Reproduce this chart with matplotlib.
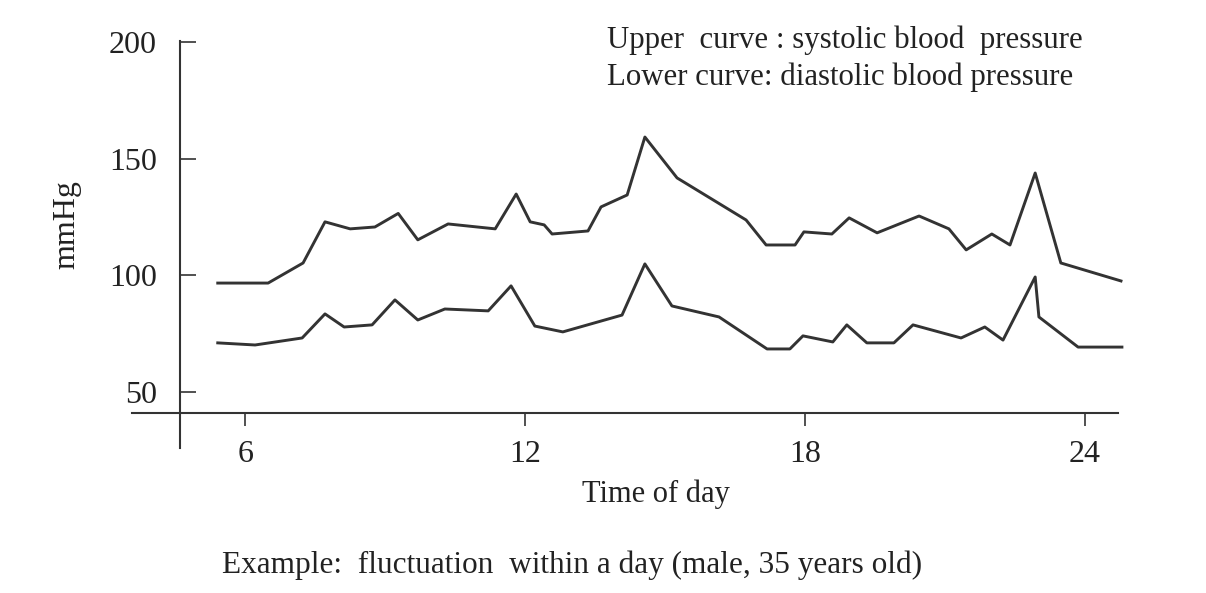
import matplotlib
matplotlib.use("Agg")
import matplotlib.pyplot as plt

plt.rcParams['font.family'] = ['Liberation Serif', 'DejaVu Serif']

# time of day (hours) and blood pressure (mmHg)
hours_sys = [5.41, 6.49, 7.24, 7.71, 8.25, 8.78, 9.28, 9.70, 10.35, 11.36, 11.81,
             12.11, 12.41, 12.58, 13.35, 13.63, 14.19, 14.57, 15.26, 16.74, 17.17,
             17.79, 17.98, 18.58, 18.95, 19.55, 20.45, 21.09, 21.46, 22.01, 22.40,
             22.94, 23.49, 24.78]
systolic = [96.7, 96.7, 105.3, 122.9, 119.9, 120.7, 126.5, 115.2, 122.0, 119.9, 134.8,
            122.9, 121.6, 117.7, 119.0, 129.3, 134.4, 159.2, 141.7, 123.7, 113.0,
            113.0, 118.6, 117.7, 124.6, 118.2, 125.4, 119.9, 110.9, 117.7, 113.0,
            143.8, 105.3, 97.6]

hours_dia = [5.41, 6.21, 7.22, 7.71, 8.12, 8.72, 9.21, 9.70, 10.28, 11.21, 11.70,
             12.21, 12.81, 14.08, 14.57, 15.15, 16.16, 17.19, 17.68, 17.96, 18.60,
             18.90, 19.33, 19.91, 20.32, 21.35, 21.86, 22.25, 22.94, 23.02, 23.86,
             24.80]
diastolic = [71.1, 70.2, 73.2, 83.5, 77.9, 78.8, 89.5, 80.9, 85.6, 84.8, 95.5,
             78.3, 75.8, 83.0, 104.9, 86.9, 82.2, 68.5, 68.5, 74.1, 71.5,
             78.8, 71.1, 71.1, 78.8, 73.2, 77.9, 72.3, 99.3, 82.2, 69.3,
             69.3]

x_ticks = [6, 12, 18, 24]
y_ticks = [50, 100, 150, 200]

ink = '#333333'
txt = '#222222'

fig = plt.figure(figsize=(12.06, 5.93), dpi=100)
ax = fig.add_axes([132/1206, (593-448)/593, (1118-132)/1206, (448-41)/593])

ax.plot(hours_sys, systolic, color=ink, lw=2.1, clip_on=False)
ax.plot(hours_dia, diastolic, color=ink, lw=2.1, clip_on=False)

ax.set_xlim(3.571, 24.716)
ax.set_ylim(26.11, 200.3)

for s in ['top', 'right']:
    ax.spines[s].set_visible(False)
ax.spines['left'].set_position(('data', 4.60))
ax.spines['bottom'].set_position(('data', 41.1))
for s in ['left', 'bottom']:
    ax.spines[s].set_color(ink)
    ax.spines[s].set_linewidth(1.5)

ax.set_xticks(x_ticks)
ax.set_yticks(y_ticks)
ax.tick_params(axis='y', direction='in', length=11.5, width=1.2, colors=ink,
               labelsize=23, pad=16.5, labelcolor=txt)
ax.tick_params(axis='x', direction='out', length=9.4, width=1.2, colors=ink,
               labelsize=23, pad=10, labelcolor=txt)

fig.text(656/1206, 1-494/593, 'Time of day', ha='center', va='center',
         fontsize=22, color=txt)
fig.text(67/1206, 1-225/593, 'mmHg', ha='center', va='center', rotation=90,
         fontsize=23, color=txt)

fig.text(607/1206, 1-40/593, 'Upper  curve : systolic blood  pressure',
         ha='left', va='center', fontsize=22.2, color=txt)
fig.text(607/1206, 1-77/593, 'Lower curve: diastolic blood pressure',
         ha='left', va='center', fontsize=22.2, color=txt)

fig.text(222/1206, 1-565/593, 'Example:  fluctuation  within a day (male, 35 years old)',
         ha='left', va='center', fontsize=22.5, color=txt)

fig.savefig('out.png', dpi=100)
